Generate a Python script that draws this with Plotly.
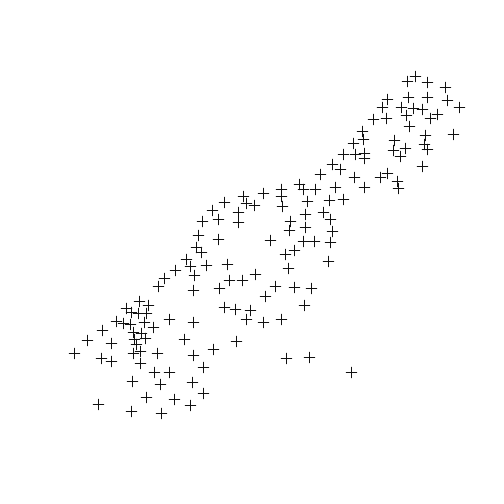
import plotly.graph_objects as go

x_vals = [415,407,427,445,387,408,427,447,459,382,401,413,422,406,437,430,386,373,409,362,
          425,453,363,353,394,424,427,405,393,400,343,355,364,364,422,332,340,320,354,380,
          387,397,398,299,303,315,335,364,281,281,282,307,329,343,305,323,330,290,263,243,
          246,254,224,212,238,238,218,202,289,305,332,198,218,270,303,314,330,196,201,294,
          285,328,186,190,206,227,288,175,194,164,229,242,255,158,193,219,275,294,311,265,
          304,224,235,250,193,246,263,281,236,213,193,286,309,351,203,192,203,190,139,148,
          126,131,138,146,169,116,123,130,144,153,102,133,141,145,87,111,134,136,184,140,
          74,101,111,133,157,140,154,169,132,160,146,174,98,131,161]
y_pix = [76,81,82,87,99,97,97,100,107,107,107,108,109,115,114,118,118,119,126,131,
         135,134,139,143,140,144,149,148,150,156,154,154,153,158,166,164,169,174,177,177,
         173,181,188,184,189,189,187,187,189,196,206,201,200,199,214,212,219,221,193,196,
         203,205,202,210,212,222,219,221,230,227,231,235,239,240,241,241,242,247,252,250,
         254,261,259,266,265,264,268,270,275,278,280,280,274,286,290,288,286,287,288,296,
         305,307,309,310,322,319,322,319,341,349,355,358,357,372,367,382,393,405,301,305,
         308,312,313,313,319,321,323,324,322,327,330,332,333,338,340,343,339,344,339,351,
         353,358,361,353,353,363,372,372,381,384,397,399,404,411,413]
y_vals = [504 - v for v in y_pix]

fig = go.Figure(go.Scatter(
    x=x_vals, y=y_vals, mode="markers",
    marker=dict(symbol="cross-thin", size=8, line=dict(width=1, color="#111111"), color="#111111",
                opacity=1),
))
fig.update_layout(
    width=504, height=504, margin=dict(l=0, r=0, t=0, b=0),
    paper_bgcolor="white", plot_bgcolor="white", showlegend=False,
    xaxis=dict(range=[-0.5, 503.5], visible=False),
    yaxis=dict(range=[0.5, 504.5], visible=False),
)
fig.write_html("out.html")
